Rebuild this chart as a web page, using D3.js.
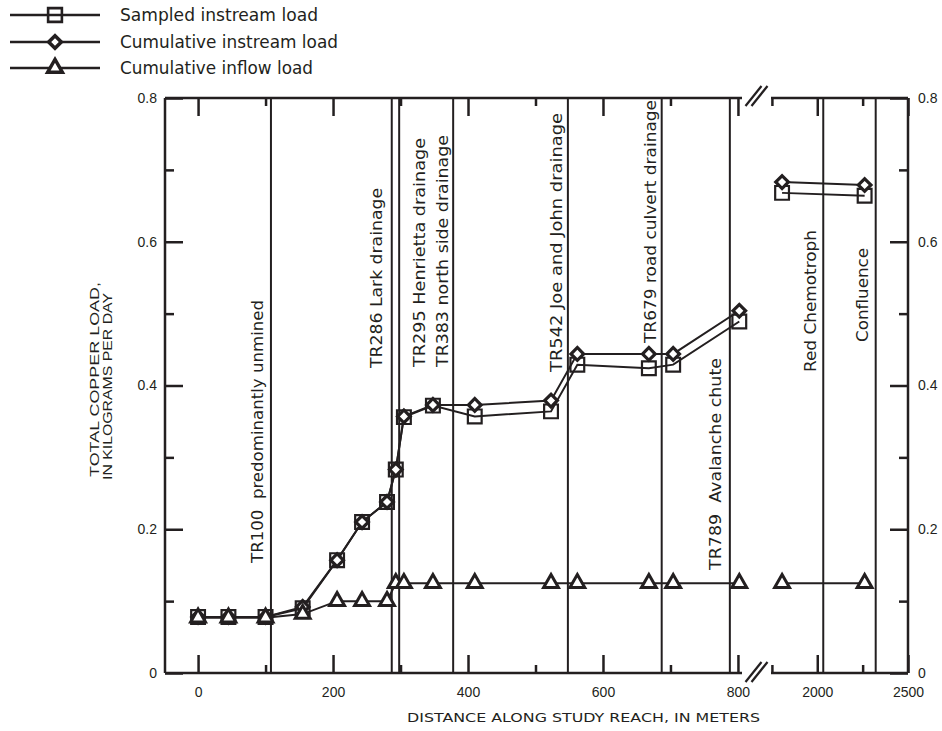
<!DOCTYPE html>
<html>
<head>
<meta charset="utf-8">
<script src="https://cdn.jsdelivr.net/npm/d3@7/dist/d3.min.js"></script>
<style>
  html, body { margin: 0; padding: 0; background: #fff; }
  svg { display: block; }
</style>
</head>
<body>
<svg id="chart" width="942" height="731"></svg>
<script>
// ---------------- DATA ----------------
const distances   = [0, 45, 100, 155, 206, 243, 280, 293, 305, 348, 410, 523, 562, 668, 704, 802, 1806, 2261];
const sampled     = [0.078, 0.078, 0.078, 0.090, 0.157, 0.210, 0.238, 0.283, 0.356, 0.372, 0.357, 0.364, 0.429, 0.424, 0.429, 0.489, 0.668, 0.664];
const cumInstream = [0.078, 0.078, 0.078, 0.092, 0.157, 0.210, 0.238, 0.283, 0.357, 0.373, 0.373, 0.379, 0.444, 0.444, 0.444, 0.504, 0.683, 0.679];
const cumInflow   = [0.077, 0.077, 0.077, 0.082, 0.100, 0.100, 0.100, 0.125, 0.125, 0.125, 0.125, 0.125, 0.125, 0.125, 0.125, 0.125, 0.125, 0.125];

const seriesNames = ["Sampled instream load", "Cumulative instream load", "Cumulative inflow load"];

const markerDistances = [108, 287, 298, 378, 548, 687, 788, 2033, 2322];
const markerLabels = ["TR100  predominantly unmined", "TR286 Lark drainage", "TR295 Henrietta drainage",
  "TR383 north side drainage", "TR542 Joe and John drainage", "TR679 road culvert drainage",
  "TR789  Avalanche chute", "Red Chemotroph", "Confluence"];

const yTicksMajor = [0, 0.2, 0.4, 0.6, 0.8];
const yTicksMinor = [0.1, 0.3, 0.5, 0.7];
const xTicksLeftMajor = [0, 200, 400, 600, 800];
const xTicksLeftMinor = [100, 300, 500, 700];
const xTicksRightMajor = [2000, 2500];
const xTicksRightMinor = [1750, 2250];

const xTitle = "DISTANCE ALONG STUDY REACH, IN METERS";
const yTitle = ["TOTAL COPPER LOAD,", "IN KILOGRAMS PER DAY"];

// ---------------- LAYOUT ----------------
const INK = "#231f20";
const COMIC = "'DejaVu Sans', sans-serif";
const SANS = "'Liberation Sans', Arial, sans-serif";
const plot = { left: 165, right: 908, top: 98, bottom: 673, breakL: 742, breakR: 771 };
// label layout: [center x offset handled by scale], bottom y, length
const labelLayout = [
  { cx: 257, y0: 563, len: 263 },
  { cx: 376, y0: 368, len: 180 },
  { cx: 419, y0: 367, len: 229 },
  { cx: 442, y0: 367, len: 232 },
  { cx: 556, y0: 372, len: 259 },
  { cx: 650, y0: 343, len: 243 },
  { cx: 715, y0: 570, len: 212 },
  { cx: 810, y0: 372, len: 142 },
  { cx: 862, y0: 342, len: 94 }
];

const svg = d3.select("#chart");

const xL = d3.scaleLinear().domain([-49, 806]).range([plot.left, plot.breakL]);
const xR = d3.scaleLinear().domain([1745, 2500]).range([plot.breakR, plot.right]);
const xPos = d => d <= 806 ? xL(d) : xR(d);
const y = d3.scaleLinear().domain([0, 0.8]).range([plot.bottom, plot.top]);

// ---------- vertical reference lines ----------
svg.append("g").selectAll("line").data(markerDistances).join("line")
  .attr("x1", d => xPos(d)).attr("x2", d => xPos(d))
  .attr("y1", plot.top).attr("y2", plot.bottom)
  .attr("stroke", INK).attr("stroke-width", 2);

// ---------- vertical labels ----------
svg.append("g").selectAll("text").data(markerLabels).join("text")
  .attr("transform", (d, i) => `translate(${labelLayout[i].cx},${labelLayout[i].y0}) rotate(-90)`)
  .attr("dominant-baseline", "central")
  .attr("font-family", COMIC).attr("font-size", 16).attr("fill", INK)
  .attr("textLength", (d, i) => labelLayout[i].len)
  .attr("lengthAdjust", "spacingAndGlyphs")
  .style("white-space", "pre")
  .attr("xml:space", "preserve")
  .text(d => d);

// ---------- axes ----------
function styleAxis(g) {
  g.select(".domain").remove();
  g.selectAll(".tick line").attr("stroke", INK).attr("stroke-width", 2.5);
  g.selectAll(".tick text").attr("fill", INK).attr("font-family", SANS).attr("font-size", 14);
}
const fmtY = d => d === 0 ? "0" : d3.format(".1f")(d);

// left y axis
svg.append("g").attr("transform", `translate(${plot.left},0)`)
  .call(d3.axisLeft(y).tickValues(yTicksMajor).tickSize(-18).tickPadding(8).tickFormat(fmtY)).call(styleAxis);
svg.append("g").attr("transform", `translate(${plot.left},0)`)
  .call(d3.axisLeft(y).tickValues(yTicksMinor).tickSize(-9).tickFormat("")).call(styleAxis);
// right y axis
svg.append("g").attr("transform", `translate(${plot.right},0)`)
  .call(d3.axisRight(y).tickValues(yTicksMajor).tickSize(-18).tickPadding(10).tickFormat(fmtY)).call(styleAxis);
svg.append("g").attr("transform", `translate(${plot.right},0)`)
  .call(d3.axisRight(y).tickValues(yTicksMinor).tickSize(-9).tickFormat("")).call(styleAxis);

// bottom x axes
svg.append("g").attr("transform", `translate(0,${plot.bottom})`)
  .call(d3.axisBottom(xL).tickValues(xTicksLeftMajor).tickSize(-18).tickPadding(14).tickFormat(d3.format("d"))).call(styleAxis);
svg.append("g").attr("transform", `translate(0,${plot.bottom})`)
  .call(d3.axisBottom(xL).tickValues(xTicksLeftMinor).tickSize(-8).tickFormat("")).call(styleAxis);
svg.append("g").attr("transform", `translate(0,${plot.bottom})`)
  .call(d3.axisBottom(xR).tickValues(xTicksRightMajor).tickSize(-18).tickPadding(14).tickFormat(d3.format("d"))).call(styleAxis);
svg.append("g").attr("transform", `translate(0,${plot.bottom})`)
  .call(d3.axisBottom(xR).tickValues(xTicksRightMinor).tickSize(-8).tickFormat("")).call(styleAxis);
// top x axes
svg.append("g").attr("transform", `translate(0,${plot.top})`)
  .call(d3.axisTop(xL).tickValues(xTicksLeftMajor).tickSize(-18).tickFormat("")).call(styleAxis);
svg.append("g").attr("transform", `translate(0,${plot.top})`)
  .call(d3.axisTop(xL).tickValues(xTicksLeftMinor).tickSize(-8).tickFormat("")).call(styleAxis);
svg.append("g").attr("transform", `translate(0,${plot.top})`)
  .call(d3.axisTop(xR).tickValues(xTicksRightMajor).tickSize(-18).tickFormat("")).call(styleAxis);
svg.append("g").attr("transform", `translate(0,${plot.top})`)
  .call(d3.axisTop(xR).tickValues(xTicksRightMinor).tickSize(-8).tickFormat("")).call(styleAxis);

// frame with break
const frame = svg.append("g").attr("stroke", INK).attr("stroke-width", 2.5).attr("fill", "none");
[[plot.left, plot.top, plot.left, plot.bottom],
 [plot.right, plot.top, plot.right, plot.bottom],
 [plot.left, plot.top, plot.breakL, plot.top],
 [plot.breakR, plot.top, plot.right, plot.top],
 [plot.left, plot.bottom, plot.breakL, plot.bottom],
 [plot.breakR, plot.bottom, plot.right, plot.bottom]].forEach(s =>
  frame.append("line").attr("x1", s[0]).attr("y1", s[1]).attr("x2", s[2]).attr("y2", s[3]));
// break marks
[plot.top - 2, plot.bottom - 1].forEach(yy => {
  [-3, 3].forEach(dx => {
    frame.append("line")
      .attr("x1", (plot.breakL + plot.breakR) / 2 + dx - 8).attr("y1", yy + 10)
      .attr("x2", (plot.breakL + plot.breakR) / 2 + dx + 8).attr("y2", yy - 10)
      .attr("stroke-width", 2.2);
  });
});

// ---------- series ----------
const seriesValues = [sampled, cumInstream, cumInflow];
const line = d3.line().x(d => xPos(d.x)).y(d => y(d.y));
seriesValues.forEach(vals => {
  const pts = distances.map((d, i) => ({ x: d, y: vals[i] }));
  const segs = [pts.filter(p => p.x <= 806), pts.filter(p => p.x > 806)];
  segs.forEach(seg => {
    svg.append("path").datum(seg).attr("d", line)
      .attr("fill", "none").attr("stroke", INK).attr("stroke-width", 2);
  });
});

const symSquare = d3.symbol().type(d3.symbolSquare).size(190);
const symDiamond = d3.symbol().type(d3.symbolSquare).size(80);
const symTriangle = d3.symbol().type(d3.symbolTriangle).size(95);
const markerStyles = [
  { path: symSquare(), rot: 0, fill: "none", sw: 2.2 },
  { path: symDiamond(), rot: 45, fill: "#fff", sw: 3.2 },
  { path: symTriangle(), rot: 0, fill: "#fff", sw: 3 }
];

seriesValues.forEach((vals, si) => {
  const st = markerStyles[si];
  svg.append("g").selectAll("path").data(distances).join("path")
    .attr("d", st.path)
    .attr("transform", (d, i) => `translate(${xPos(d)},${y(vals[i])}) rotate(${st.rot})`)
    .attr("fill", st.fill).attr("stroke", INK).attr("stroke-width", st.sw);
});

// ---------- legend ----------
const legendRows = [15, 42, 68];
seriesNames.forEach((name, i) => {
  const g = svg.append("g").attr("transform", `translate(0,${legendRows[i]})`);
  g.append("line").attr("x1", 10).attr("x2", 100).attr("y1", 0).attr("y2", 0)
    .attr("stroke", INK).attr("stroke-width", 2.5);
  const st = markerStyles[i];
  g.append("path").attr("d", st.path)
    .attr("transform", `translate(55,0) rotate(${st.rot})`)
    .attr("fill", st.fill).attr("stroke", INK).attr("stroke-width", st.sw + 0.4);
  g.append("text").attr("x", 120).attr("y", 0).attr("dominant-baseline", "central")
    .attr("font-family", COMIC).attr("font-size", 17).attr("fill", INK)
    .attr("textLength", [198, 218, 193][i]).attr("lengthAdjust", "spacingAndGlyphs")
    .text(name);
});

// ---------- axis titles ----------
svg.append("text").attr("x", 407).attr("y", 722)
  .attr("font-family", COMIC).attr("font-size", 13).attr("fill", INK)
  .attr("textLength", 353).attr("lengthAdjust", "spacingAndGlyphs")
  .text(xTitle);

const yTitleLayout = [{ cx: 95, y0: 477, len: 195 }, { cx: 108, y0: 480, len: 187 }];
yTitle.forEach((t, i) => {
  svg.append("text")
    .attr("transform", `translate(${yTitleLayout[i].cx},${yTitleLayout[i].y0}) rotate(-90)`)
    .attr("dominant-baseline", "central")
    .attr("font-family", SANS).attr("font-size", 12.5).attr("fill", INK)
    .attr("textLength", yTitleLayout[i].len).attr("lengthAdjust", "spacingAndGlyphs")
    .text(t);
});
</script>
</body>
</html>
